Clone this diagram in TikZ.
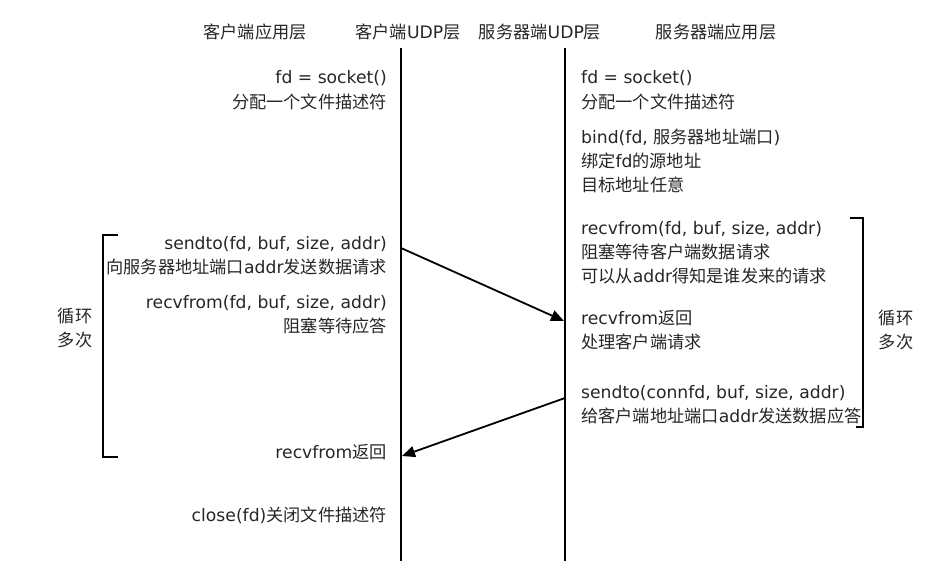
\documentclass[tikz,border=0pt]{standalone}
\usepackage{fontspec}
\setmainfont{DejaVu Sans}
\newfontfamily\cjk{Noto Sans CJK SC}
\newcommand\zh[1]{{\cjk #1}}
\usetikzlibrary{arrows.meta}
\begin{document}
\begin{tikzpicture}[x=1pt,y=-1pt,
  txt/.style={inner sep=0pt,font=\fontsize{17.2}{24}\selectfont,text=black!85},
  lt/.style={txt,anchor=base east},
  rt/.style={txt,anchor=base west},
  ct/.style={txt,anchor=base},
  lifeline/.style={line width=2pt,black},
  msg/.style={line width=1.8pt,black,-{Triangle[length=13pt,width=11pt]}},
  brk/.style={line width=1.8pt,black}]
\useasboundingbox (0,0) rectangle (939,572);
% headers
\node[ct] (h1) at (255,39) {\zh{客户端应用层}};
\node[ct] (h2) at (408,39) {\zh{客户端}UDP\zh{层}};
\node[ct] (h3) at (540,39) {\zh{服务器端}UDP\zh{层}};
\node[ct] (h4) at (716,39) {\zh{服务器端应用层}};
% lifelines
\coordinate (cltop) at (401,48);
\coordinate (clbot) at (401,561);
\coordinate (sltop) at (565,48);
\coordinate (slbot) at (565,561);
\draw[lifeline] (cltop) -- (clbot);
\draw[lifeline] (sltop) -- (slbot);
% client texts
\node[lt] (c1) at (387,84) {fd = socket()};
\node[lt] (c2) at (387,109) {\zh{分配一个文件描述符}};
\node[lt] (c3) at (387,249) {sendto(fd, buf, size, addr)};
\node[lt] (c4) at (387,273) {\zh{向服务器地址端口}addr\zh{发送数据请求}};
\node[lt] (c5) at (387,308) {recvfrom(fd, buf, size, addr)};
\node[lt] (c6) at (387,332) {\zh{阻塞等待应答}};
\node[lt] (c7) at (387,458) {recvfrom\zh{返回}};
\node[lt] (c8) at (387,521) {close(fd)\zh{关闭文件描述符}};
% server texts
\node[rt] (s1) at (581,84) {fd = socket()};
\node[rt] (s2) at (581,109) {\zh{分配一个文件描述符}};
\node[rt] (s3) at (581,144) {bind(fd, \zh{服务器地址端口})};
\node[rt] (s4) at (581,168) {\zh{绑定}fd\zh{的源地址}};
\node[rt] (s5) at (581,192) {\zh{目标地址任意}};
\node[rt] (s6) at (581,234) {recvfrom(fd, buf, size, addr)};
\node[rt] (s7) at (581,258) {\zh{阻塞等待客户端数据请求}};
\node[rt] (s8) at (581,282) {\zh{可以从}addr\zh{得知是谁发来的请求}};
\node[rt] (s9) at (581,324) {recvfrom\zh{返回}};
\node[rt] (s10) at (581,348) {\zh{处理客户端请求}};
\node[rt] (s11) at (581,398) {sendto(connfd, buf, size, addr)};
\node[rt] (s12) at (581,422) {\zh{给客户端地址端口}addr\zh{发送数据应答}};
% messages
\coordinate (m1s) at (401,248);
\coordinate (m1e) at (564,321);
\coordinate (m2s) at (565,398);
\coordinate (m2e) at (402,456);
\draw[msg] (m1s) -- (m1e);
\draw[msg] (m2s) -- (m2e);
% brackets
\coordinate (lb1) at (118,235);
\coordinate (lb2) at (103,235);
\coordinate (lb3) at (103,457);
\coordinate (lb4) at (118,457);
\draw[brk] (lb1) -- (lb2) -- (lb3) -- (lb4);
\coordinate (rb1) at (850,218);
\coordinate (rb2) at (863,218);
\coordinate (rb3) at (863,427);
\coordinate (rb4) at (856,427);
\draw[brk] (rb1) -- (rb2) -- (rb3) -- (rb4);
% loop labels
\node[ct] (l1) at (75,322) {\zh{循环}};
\node[ct] (l2) at (75,346) {\zh{多次}};
\node[ct] (r1) at (896,324) {\zh{循环}};
\node[ct] (r2) at (896,348) {\zh{多次}};
\end{tikzpicture}
\end{document}
